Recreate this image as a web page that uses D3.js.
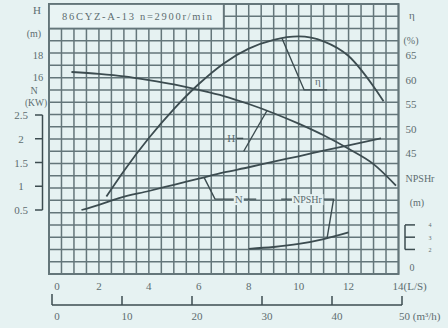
<!DOCTYPE html>
<html><head><meta charset="utf-8">
<script src="https://cdn.jsdelivr.net/npm/d3@7"></script>
<style>
html,body{margin:0;padding:0;background:#e6f2f2;}
svg{display:block;}
text{font-family:"Liberation Serif","DejaVu Serif",serif;fill:#5d6d70;}
</style></head>
<body>
<svg id="c" width="448" height="328"></svg>
<script>
// ---- data ----
const qH   = [0.9, 2, 3, 4, 5, 6, 7, 8, 9, 10, 11, 12, 13, 13.9];
const H    = [16.46, 16.3, 16.1, 15.8, 15.45, 15.0, 14.5, 13.85, 13.1, 12.25, 11.3, 10.2, 8.95, 7.2];
const qEta = [2.3, 3, 4, 5, 6, 7, 8, 9, 10, 11, 12, 13, 13.4];
const eta  = [35.8, 41.0, 47.7, 53.6, 58.7, 62.9, 65.9, 67.7, 68.4, 67.4, 64.4, 58.2, 55.2];
const qN   = [1.3, 2, 2.8, 4, 5, 6, 7, 8, 9, 10, 11, 12, 13.3];
const N    = [0.5, 0.61, 0.75, 0.9, 1.03, 1.16, 1.29, 1.4, 1.52, 1.63, 1.75, 1.86, 2.01];
const qNP  = [8, 9, 10, 11, 12];
const NPSH = [2.05, 2.2, 2.45, 2.85, 3.4];

const qTicks   = [0, 2, 4, 6, 8, 10, 12, 14];
const m3Ticks  = [0, 10, 20, 30, 40, 50];
const hTicks   = [18, 16];
const nTicks   = [2.5, 2, 1.5, 1, 0.5];
const etaTicks = [65, 60, 55, 50, 45];
const npTicks  = [4, 3, 2];
const title = "86CYZ-A-13  n=2900r/min";

// ---- scales ----
const x    = d3.scaleLinear([0, 14], [49, 398.5]);
const xm3  = d3.scaleLinear([0, 50], [52, 402]);
const yH   = d3.scaleLinear([0, 22], [274, 4]);
const yEta = d3.scaleLinear([20, 75], [274, 4]);
const yN   = d3.scaleLinear([0.5, 2.5], [210, 115]);
const yNP  = d3.scaleLinear([0, 22], [274, 4]);

const svg = d3.select("#c");
const GRID = "#64767a", INK = "#3c4c50";

// grid
const g = svg.append("g");
g.selectAll(".v").data(d3.range(0, 14.01, 0.5)).join("line")
  .attr("x1", d => x(d)).attr("x2", d => x(d)).attr("y1", yH(22)).attr("y2", yH(0))
  .attr("stroke", GRID).attr("stroke-width", 1.5);
g.selectAll(".h").data(d3.range(0, 22.01, 1)).join("line")
  .attr("x1", x(0)).attr("x2", x(14)).attr("y1", d => yH(d)).attr("y2", d => yH(d))
  .attr("stroke", GRID).attr("stroke-width", 1.5);
g.append("rect").attr("x", x(0)).attr("y", yH(22)).attr("width", x(14) - x(0)).attr("height", yH(0) - yH(22))
  .attr("fill", "none").attr("stroke", GRID).attr("stroke-width", 2);
// title box
g.append("rect").attr("x", x(0)).attr("y", yH(22)).attr("width", x(7) - x(0)).attr("height", yH(20) - yH(22))
  .attr("fill", "#e9f4f4").attr("stroke", GRID).attr("stroke-width", 1.8);
svg.append("text").attr("x", x(0) + 13).attr("y", yH(21) + 4).attr("font-size", 10.5)
  .attr("textLength", 150).attr("lengthAdjust", "spacing").text(title);

// curves
const line = (xs, ys, sx, sy) => d3.line().curve(d3.curveMonotoneX)
  .x((d, i) => sx(xs[i])).y(d => sy(d))(ys);
const curve = (p) => svg.append("path").attr("d", p).attr("fill", "none")
  .attr("stroke", INK).attr("stroke-width", 1.8);
curve(line(qH, H, x, yH));
curve(line(qEta, eta, x, yEta));
curve(line(qN, N, x, yN));
curve(line(qNP, NPSH, x, yNP));

// interpolation helpers for leader anchors
const interp = (xs, ys, q) => d3.scaleLinear(xs, ys)(q);
const lead = (pts) => svg.append("path").attr("d", d3.line()(pts)).attr("fill", "none")
  .attr("stroke", INK).attr("stroke-width", 1.4);
const labelBg = (tx, ty, s, size) => {
  const t = svg.append("text").attr("x", tx).attr("y", ty).attr("text-anchor", "middle")
    .attr("font-size", size).text(s);
  const b = t.node().getBBox();
  svg.insert("rect", () => t.node()).attr("x", b.x - 1).attr("y", b.y).attr("width", b.width + 2)
    .attr("height", b.height).attr("fill", "#e6f2f2");
  return t;
};

// eta label
lead([[x(9.34), yEta(interp(qEta, eta, 9.34))], [x(10.22), yEta(57.5)], [x(11.14), yEta(57.5)]]);
svg.append("text").attr("x", x(10.77)).attr("y", yEta(57.5) - 5).attr("text-anchor", "middle").attr("font-size", 11).text("η");
// H label
lead([[x(7.8), yH(10.0)], [x(8.73), yH(interp(qH, H, 8.73))]]);
lead([[x(7.52), yH(11.05)], [x(7.78), yH(11.05)]]);
svg.append("text").attr("x", x(7.3)).attr("y", yH(11.05) + 4).attr("text-anchor", "middle").attr("font-size", 11).text("H");
// N label
lead([[x(6.21), yN(interp(qN, N, 6.21))], [x(6.65), yN(0.73)], [x(8.3), yN(0.73)]]);
labelBg(x(7.6), yN(0.73) + 4, "N", 11);
// NPSHr label
lead([[x(9.3), yNP(6.1)], [x(11.4), yNP(6.1)], [x(11.14), yNP(interp(qNP, NPSH, 11.14))]]);
labelBg(x(10.35), yNP(6.1) + 4, "NPSHr", 10);

// bottom L/s labels
svg.selectAll(".ql").data(qTicks).join("text")
  .attr("x", d => d === 14 ? x(d) - 6 : x(d) + (d === 0 ? 8 : 0)).attr("y", 290)
  .attr("text-anchor", d => d === 14 ? "start" : "middle").attr("font-size", 11)
  .text(d => d === 14 ? "14(L/S)" : d);
// m3/h axis
const axY = 305;
svg.append("line").attr("x1", xm3(0)).attr("x2", xm3(50)).attr("y1", axY).attr("y2", axY)
  .attr("stroke", INK).attr("stroke-width", 1.5);
svg.selectAll(".mt").data(m3Ticks).join("line")
  .attr("x1", d => xm3(d)).attr("x2", d => xm3(d)).attr("y1", d => d === 0 ? axY - 11 : axY - 9).attr("y2", axY)
  .attr("stroke", INK).attr("stroke-width", 1.5);
svg.selectAll(".ml").data(m3Ticks).join("text")
  .attr("x", d => d === 50 ? xm3(d) - 3 : xm3(d) + 5).attr("y", 320)
  .attr("text-anchor", d => d === 50 ? "start" : "middle").attr("font-size", 11)
  .text(d => d === 50 ? "50 (m³/h)" : d);

// left H axis labels
svg.append("text").attr("x", 37).attr("y", 14).attr("text-anchor", "middle").attr("font-size", 11).text("H");
svg.append("text").attr("x", 34).attr("y", 37).attr("text-anchor", "middle").attr("font-size", 10).text("(m)");
svg.selectAll(".hl").data(hTicks).join("text").attr("x", 38).attr("y", d => yH(d) + (d === 16 ? 3.5 : 6))
  .attr("text-anchor", "middle").attr("font-size", 10.5).text(d => d);
// N axis
svg.append("text").attr("x", 34).attr("y", 94).attr("text-anchor", "middle").attr("font-size", 10).text("N");
svg.append("text").attr("x", 36).attr("y", 106).attr("text-anchor", "middle").attr("font-size", 9.5).text("(KW)");
svg.append("line").attr("x1", 42.5).attr("x2", 42.5).attr("y1", yN(2.5)).attr("y2", yN(0.5))
  .attr("stroke", INK).attr("stroke-width", 1.5);
svg.selectAll(".nt").data(nTicks).join("line").attr("x1", 35).attr("x2", 42.5)
  .attr("y1", d => yN(d)).attr("y2", d => yN(d)).attr("stroke", INK).attr("stroke-width", 1.5);
svg.selectAll(".nl").data(nTicks).join("text").attr("x", 21).attr("y", d => yN(d) + 4)
  .attr("text-anchor", "middle").attr("font-size", 11).text(d => d === 2.5 ? "2.5" : d === 1.5 ? "1.5" : d === 0.5 ? "0.5" : d);
// right eta axis
svg.append("text").attr("x", 412).attr("y", 19).attr("text-anchor", "middle").attr("font-size", 11).text("η");
svg.append("text").attr("x", 411).attr("y", 44).attr("text-anchor", "middle").attr("font-size", 10).text("(%)");
svg.selectAll(".el").data(etaTicks).join("text").attr("x", 411).attr("y", d => yEta(d) + 6)
  .attr("text-anchor", "middle").attr("font-size", 11).text(d => d);
// NPSHr axis
svg.append("text").attr("x", 420).attr("y", 182).attr("text-anchor", "middle").attr("font-size", 10).text("NPSHr");
svg.append("text").attr("x", 417).attr("y", 206).attr("text-anchor", "middle").attr("font-size", 10).text("(m)");
svg.append("line").attr("x1", 405).attr("x2", 405).attr("y1", yNP(4)).attr("y2", yNP(2))
  .attr("stroke", INK).attr("stroke-width", 1.5);
svg.selectAll(".pt").data(npTicks).join("line").attr("x1", 405).attr("x2", 415)
  .attr("y1", d => yNP(d)).attr("y2", d => yNP(d)).attr("stroke", INK).attr("stroke-width", 1.5);
svg.selectAll(".pl").data(npTicks).join("text").attr("x", 430).attr("y", d => yNP(d) + 2.5)
  .attr("text-anchor", "middle").attr("font-size", 6).text(d => d);
svg.append("text").attr("x", 412).attr("y", 271).attr("text-anchor", "middle").attr("font-size", 10).text("0");
</script>
</body></html>
